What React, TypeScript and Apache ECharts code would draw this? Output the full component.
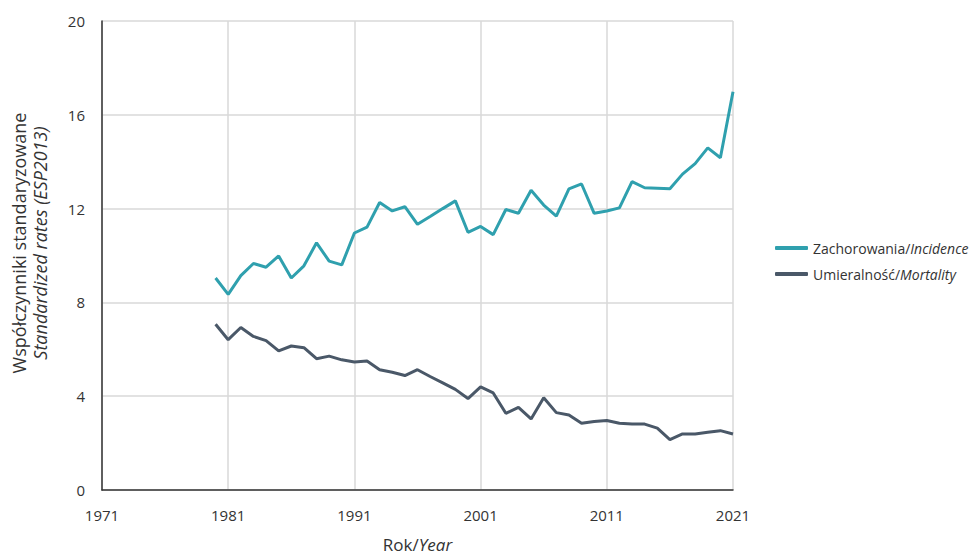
import React, { useEffect, useRef } from "react";
import * as echarts from "echarts";

const years = [
  1980, 1981, 1982, 1983, 1984, 1985, 1986, 1987, 1988, 1989,
  1990, 1991, 1992, 1993, 1994, 1995, 1996, 1997, 1998, 1999,
  2000, 2001, 2002, 2003, 2004, 2005, 2006, 2007, 2008, 2009,
  2010, 2011, 2012, 2013, 2014, 2015, 2016, 2017, 2018, 2019,
  2020, 2021,
];

const incidence = [
  9.04, 8.34, 9.14, 9.66, 9.5, 9.98, 9.04, 9.56, 10.54, 9.76,
  9.6, 10.96, 11.21, 12.26, 11.9, 12.08, 11.33, 11.66, 12.0, 12.33,
  10.99, 11.24, 10.89, 11.96, 11.8, 12.78, 12.15, 11.68, 12.84, 13.05,
  11.8, 11.9, 12.03, 13.15, 12.89, 12.87, 12.85, 13.47, 13.92, 14.59,
  14.17, 16.98,
];

const mortality = [
  7.07, 6.41, 6.93, 6.55, 6.37, 5.93, 6.14, 6.07, 5.6, 5.71,
  5.55, 5.46, 5.5, 5.13, 5.02, 4.88, 5.13, 4.84, 4.57, 4.29,
  3.9, 4.4, 4.14, 3.27, 3.52, 3.03, 3.93, 3.3, 3.2, 2.85,
  2.92, 2.96, 2.85, 2.81, 2.81, 2.64, 2.15, 2.39, 2.39, 2.46,
  2.53, 2.39,
];

const seriesNames = ["Zachorowania/Incidence", "Umieralność/Mortality"];
const xTicks = { min: 1971, max: 2021, interval: 10 };
const yTicks = { min: 0, max: 20, interval: 4 };

const FONT = "'Open Sans', 'Noto Sans', sans-serif";

export default function App() {
  const ref = useRef<HTMLDivElement>(null);

  useEffect(() => {
    if (!ref.current) return;
    const chart = echarts.init(ref.current, undefined, { renderer: "svg" });
    const pairs = (vals: number[]) => years.map((y, i) => [y, vals[i]]);

    chart.setOption({
      animation: false,
      backgroundColor: "#ffffff",
      textStyle: { fontFamily: FONT },
      grid: { left: 102, right: 245, top: 21, bottom: 60, containLabel: false },
      legend: {
        orient: "vertical",
        left: 770,
        top: 236,
        itemWidth: 33,
        itemHeight: 4,
        itemGap: 12,
        icon: "roundRect",
        data: seriesNames,
        formatter: (name: string) => {
          const [a, b] = name.split("/");
          return `{n|${a}/}{i|${b}}`;
        },
        textStyle: {
          color: "#333",
          fontSize: 14,
          fontFamily: FONT,
          rich: {
            n: { fontSize: 14, color: "#333", fontFamily: FONT },
            i: { fontSize: 14, color: "#333", fontStyle: "italic", fontFamily: FONT },
          },
        },
      },
      xAxis: {
        type: "value",
        min: xTicks.min,
        max: xTicks.max,
        interval: xTicks.interval,
        name: "{n|Rok/}{i|Year}",
        nameLocation: "middle",
        nameGap: 46,
        nameTextStyle: {
          rich: {
            n: { fontSize: 17, color: "#333", fontFamily: FONT },
            i: { fontSize: 17, color: "#333", fontStyle: "italic", fontFamily: FONT },
          },
        },
        axisLine: { show: true, lineStyle: { color: "#333", width: 1.5 } },
        axisTick: { show: false },
        axisLabel: {
          color: "#333",
          fontSize: 15,
          margin: 17,
          formatter: (v: number) => String(v),
        },
        splitLine: { show: true, lineStyle: { color: "#d9d9d9", width: 1.5 } },
      },
      yAxis: {
        type: "value",
        min: yTicks.min,
        max: yTicks.max,
        interval: yTicks.interval,
        axisLine: { show: true, lineStyle: { color: "#333", width: 1.5 } },
        axisTick: { show: false },
        axisLabel: { color: "#333", fontSize: 15, margin: 17 },
        splitLine: { show: true, lineStyle: { color: "#d9d9d9", width: 1.5 } },
      },
      graphic: [
        {
          type: "text",
          x: 19,
          y: 243,
          rotation: Math.PI / 2,
          style: {
            text: "Współczynniki standaryzowane",
            fill: "#333",
            fontSize: 18,
            fontFamily: FONT,
            align: "center",
            verticalAlign: "middle",
          },
        },
        {
          type: "text",
          x: 40,
          y: 243,
          rotation: Math.PI / 2,
          style: {
            text: "Standardized rates (ESP2013)",
            fill: "#333",
            fontSize: 18,
            fontStyle: "italic",
            fontFamily: FONT,
            align: "center",
            verticalAlign: "middle",
          },
        },
      ],
      series: [
        {
          name: seriesNames[0],
          type: "line",
          data: pairs(incidence),
          showSymbol: false,
          symbol: "none",
          lineStyle: { color: "#2fa0ae", width: 3 },
          itemStyle: { color: "#2fa0ae" },
        },
        {
          name: seriesNames[1],
          type: "line",
          data: pairs(mortality),
          showSymbol: false,
          symbol: "none",
          lineStyle: { color: "#4a5868", width: 3 },
          itemStyle: { color: "#4a5868" },
        },
      ],
    });

    return () => chart.dispose();
  }, []);

  return (
    <div
      ref={ref}
      style={{ position: "absolute", left: 0, top: 0, width: 978, height: 558 }}
    />
  );
}
